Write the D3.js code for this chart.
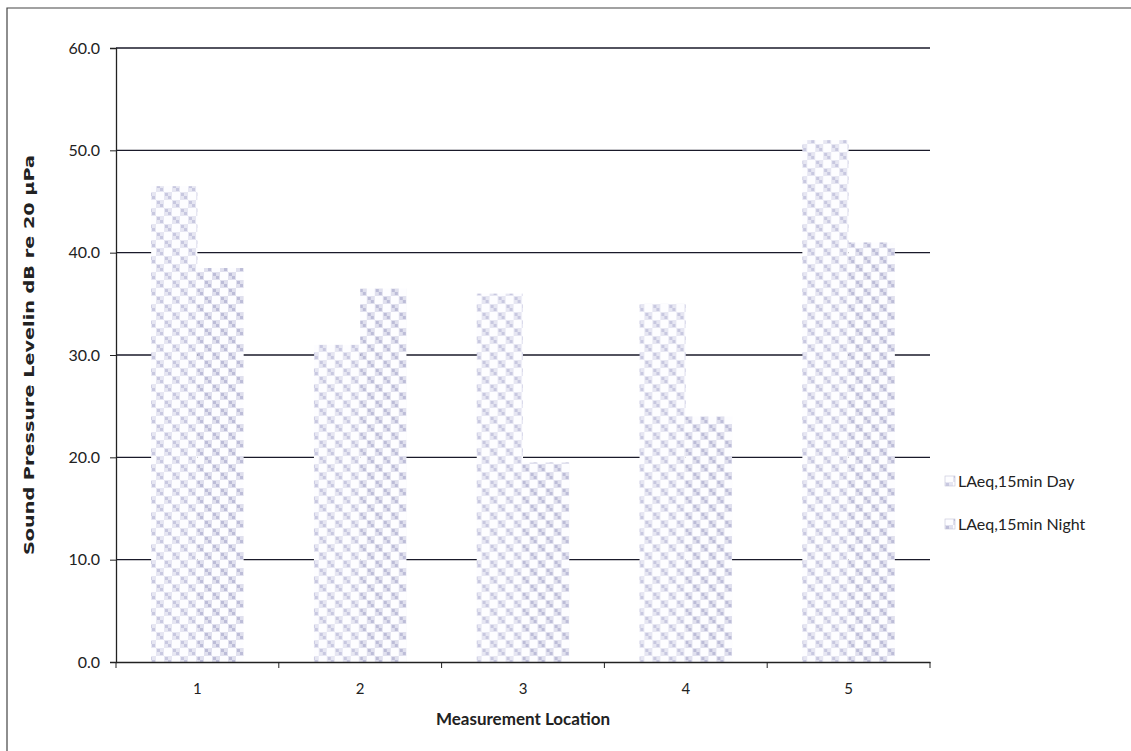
<!DOCTYPE html>
<html><head><meta charset="utf-8">
<script src="https://cdn.jsdelivr.net/npm/d3@7"></script>
<style>body{margin:0;background:#fff}svg{display:block}</style>
</head><body>
<script>
const categories = ["1","2","3","4","5"];
const seriesNames = ["LAeq,15min Day","LAeq,15min Night"];
const dayValues = [46.5, 31.0, 36.0, 35.0, 51.0];
const nightValues = [38.5, 36.5, 19.5, 24.0, 41.0];
const yTicks = [0,10,20,30,40,50,60];

const W=1131,H=751;
const svg=d3.select("body").append("svg").attr("width",W).attr("height",H);
const font="Lato, 'Open Sans', sans-serif";

// patterns
const defs=svg.append("defs");
function makePattern(id, c1, c2){
  const p=defs.append("pattern").attr("id",id).attr("patternUnits","userSpaceOnUse")
    .attr("width",16).attr("height",16);
  p.append("rect").attr("width",16).attr("height",16).attr("fill","#fdfdff");
  [[0,0],[8,8]].forEach(([x,y])=>{
    p.append("rect").attr("x",x).attr("y",y).attr("width",8).attr("height",8).attr("fill",c1);
    p.append("rect").attr("x",x+1).attr("y",y+1).attr("width",3).attr("height",3).attr("fill",c2);
    p.append("rect").attr("x",x+4).attr("y",y+4).attr("width",3).attr("height",3).attr("fill",c2);
  });
}
makePattern("pDay","#e6e6f2","#c8c8e0");
makePattern("pNight","#e0e0ee","#bdbdd8");

// border
svg.append("path").attr("d","M7,751 L7,8 L1131,8").attr("fill","none").attr("stroke","#444").attr("stroke-width",1.2);

const m={l:116,r:930,t:48,b:662};
const x=d3.scaleBand().domain(categories).range([m.l,m.r]).paddingInner(0).paddingOuter(0);
const y=d3.scaleLinear().domain([0,60]).range([m.b,m.t]);
const inner=d3.scaleBand().domain(seriesNames).range([0,x.bandwidth()]).paddingOuter(0.76).paddingInner(0);

// gridlines
svg.append("g").selectAll("line").data(yTicks.filter(d=>d>0)).join("line")
  .attr("x1",m.l).attr("x2",m.r).attr("y1",d=>y(d)).attr("y2",d=>y(d))
  .attr("stroke","#1a1a2a").attr("stroke-width",1.4);

// bars
const data=categories.map((c,i)=>({c, vals:[{s:seriesNames[0],v:dayValues[i]},{s:seriesNames[1],v:nightValues[i]}]}));
const g=svg.append("g");
g.selectAll("g").data(data).join("g").attr("transform",d=>`translate(${x(d.c)},0)`)
  .selectAll("rect").data(d=>d.vals).join("rect")
  .attr("x",d=>inner(d.s)).attr("width",inner.bandwidth())
  .attr("y",d=>y(d.v)).attr("height",d=>y(0)-y(d.v))
  .attr("fill",d=>d.s===seriesNames[0]?"url(#pDay)":"url(#pNight)");

// y axis
const ya=svg.append("g").attr("transform",`translate(${m.l},0)`)
  .call(d3.axisLeft(y).tickValues(yTicks).tickFormat(d3.format(".1f")).tickSize(6).tickPadding(10));
ya.select(".domain").attr("stroke","#222").attr("stroke-width",1.3);
ya.selectAll(".tick line").attr("stroke","#222");
ya.selectAll("text").attr("font-family",font).attr("font-size",16).attr("fill","#222");

// x axis
const xa=svg.append("g").attr("transform",`translate(0,${m.b})`)
  .call(d3.axisBottom(x).tickSize(0).tickPadding(21));
xa.select(".domain").attr("stroke","#222").attr("stroke-width",1.3);
xa.selectAll("text").attr("font-family",font).attr("font-size",15).attr("fill","#222");
svg.append("g").selectAll("line").data(categories.concat(["end"])).join("line")
  .attr("x1",(d,i)=>m.l+i*x.bandwidth()).attr("x2",(d,i)=>m.l+i*x.bandwidth())
  .attr("y1",m.b).attr("y2",m.b+6).attr("stroke","#222");

// titles
svg.append("text").attr("transform","translate(34,355) rotate(-90)").attr("text-anchor","middle")
  .attr("font-family","'DejaVu Sans', sans-serif").attr("font-weight","bold").attr("font-size",14)
  .attr("fill","#222").attr("textLength",400).attr("lengthAdjust","spacingAndGlyphs")
  .text("Sound Pressure Levelin dB re 20 µPa");
svg.append("text").attr("x",(m.l+m.r)/2).attr("y",725).attr("text-anchor","middle")
  .attr("font-family",font).attr("font-weight","bold").attr("font-size",17).attr("fill","#222")
  .text("Measurement Location");

// legend
const lg=svg.append("g").selectAll("g").data(seriesNames).join("g")
  .attr("transform",(d,i)=>`translate(945,${482+i*43})`);
lg.append("rect").attr("x",0).attr("y",-6).attr("width",10).attr("height",10)
  .attr("fill",(d,i)=>i===0?"url(#pDay)":"url(#pNight)").attr("stroke","#c4c4d8").attr("stroke-width",0.6);
lg.append("text").attr("x",13).attr("y",5).attr("font-family",font).attr("font-size",16).attr("fill","#222").text(d=>d);
</script>
</body></html>
